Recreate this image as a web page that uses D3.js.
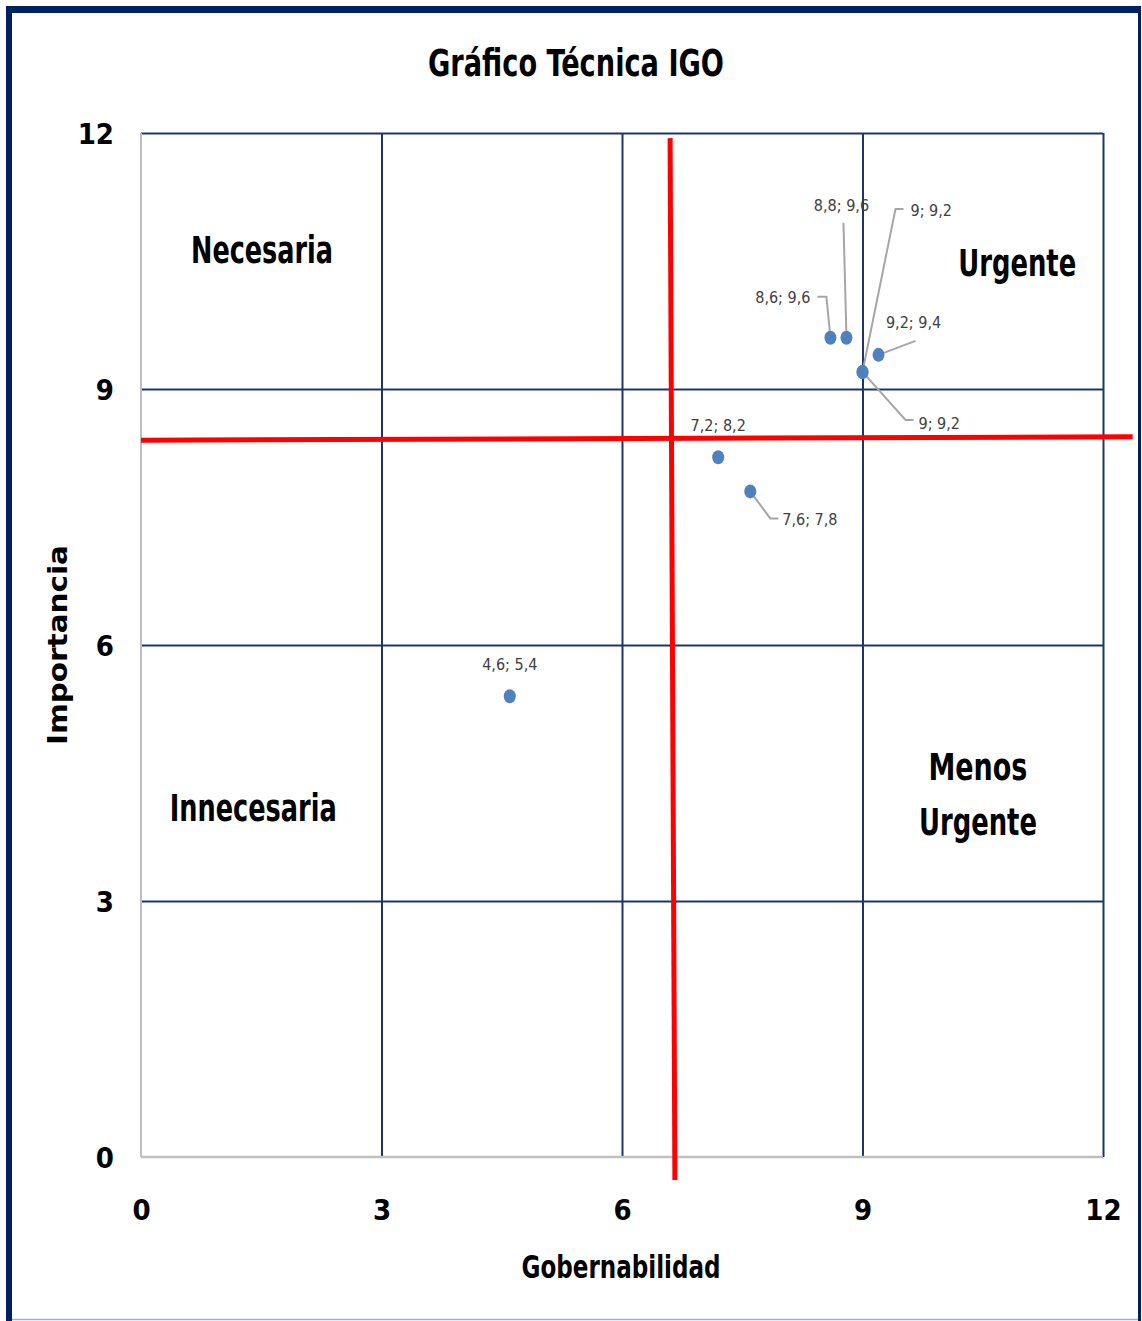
<!DOCTYPE html>
<html>
<head>
<meta charset="utf-8">
<script src="https://d3js.org/d3.v7.min.js"></script>
<style>
  body { margin: 0; background: #fff; }
  svg text { font-family: "Liberation Sans Narrow", "DejaVu Sans Condensed", "Open Sans", sans-serif; }
  .tick text { font-weight: bold; font-size: 29px; fill: #000; }
  .pt-label { font-size: 16px; fill: #404040; }
  .quad { font-weight: bold; font-size: 37px; fill: #000; }
</style>
</head>
<body>
<script>
// data
var gobernabilidad = [4.6, 7.2, 7.6, 8.6, 8.8, 9, 9, 9.2];
var importancia    = [5.4, 8.2, 7.8, 9.6, 9.6, 9.2, 9.2, 9.4];
var pointLabels    = ["4,6; 5,4", "7,2; 8,2", "7,6; 7,8", "8,6; 9,6", "8,8; 9,6", "9; 9,2", "9; 9,2", "9,2; 9,4"];
var tickValues     = [0, 3, 6, 9, 12];
var quadNames      = [["Necesaria"], ["Urgente"], ["Innecesaria"], ["Menos", "Urgente"]];
var quadCenters    = [[1.51, 10.63], [10.93, 10.48], [1.40, 4.09], [10.44, 4.57]];
// red dividers (drawn by hand in the original, slightly skewed)
var redH = [[0, 8.40], [12.37, 8.44]];
var redV = [[6.60, 11.94], [6.66, -0.27]];

// label placement: text offset from point (px), anchor, leader polyline offsets
var labelLayout = [
  { dx: 0,   dy: -32, anchor: "middle", leader: null },
  { dx: 0,   dy: -32, anchor: "middle", leader: null },
  { dx: 32,  dy: 28,  anchor: "start",  leader: [[0, 0], [20, 27], [28, 27]] },
  { dx: -20, dy: -40, anchor: "end",    leader: [[0, 0], [-4, -41], [-13, -41]] },
  { dx: -5,  dy: -132, anchor: "middle", leader: [[0, 0], [-3, -115]] },
  { dx: 48,  dy: -162, anchor: "start", leader: [[0, 0], [33, -163], [41, -163]] },
  { dx: 56,  dy: 51,  anchor: "start",  leader: [[0, 0], [43, 48], [51, 48]] },
  { dx: 35,  dy: -32, anchor: "middle", leader: [[0, 0], [37, -14]] }
];
var quadWidths = [[142], [118], [167], [99, 118]];

var W = 1142, H = 1321;
var margin = { left: 141, right: W - 1103, top: 133, bottom: H - 1157 };

var svg = d3.select("body").append("svg")
  .attr("width", W).attr("height", H);

// outer frame
svg.append("rect").attr("x", 0).attr("y", 0).attr("width", W).attr("height", H).attr("fill", "#fff");
svg.append("line").attr("x1", 9).attr("x2", 9).attr("y1", 6).attr("y2", 1321)
  .attr("stroke", "#002060").attr("stroke-width", 6);
svg.append("line").attr("x1", 6).attr("x2", 1141).attr("y1", 9.5).attr("y2", 9.5)
  .attr("stroke", "#002060").attr("stroke-width", 7);
svg.append("line").attr("x1", 1139.5).attr("x2", 1139.5).attr("y1", 6).attr("y2", 1321)
  .attr("stroke", "#002060").attr("stroke-width", 3);
svg.append("line").attr("x1", 12).attr("x2", 1138).attr("y1", 1319.5).attr("y2", 1319.5)
  .attr("stroke", "#9fb0d0").attr("stroke-width", 1.5);

var x = d3.scaleLinear().domain([0, 12]).range([margin.left, W - margin.right]);
var y = d3.scaleLinear().domain([0, 12]).range([H - margin.bottom, margin.top]);

// grid
var gridX = svg.append("g")
  .attr("transform", "translate(0," + y(0) + ")")
  .call(d3.axisBottom(x).tickValues(tickValues.slice(1)).tickSize(-(y(0) - y(12))).tickFormat(""));
var gridY = svg.append("g")
  .attr("transform", "translate(" + x(0) + ",0)")
  .call(d3.axisLeft(y).tickValues(tickValues.slice(1)).tickSize(-(x(12) - x(0))).tickFormat(""));
[gridX, gridY].forEach(function(g) {
  g.select(".domain").remove();
  g.selectAll(".tick line").attr("stroke", "#1f3468").attr("stroke-width", 2);
});

// axis lines (gray)
svg.append("line").attr("x1", x(0)).attr("x2", x(0)).attr("y1", y(12)).attr("y2", y(0))
  .attr("stroke", "#bfbfbf").attr("stroke-width", 2);
svg.append("line").attr("x1", x(0)).attr("x2", x(12)).attr("y1", y(0)).attr("y2", y(0))
  .attr("stroke", "#bfbfbf").attr("stroke-width", 2.5);

// tick labels
var xAxis = svg.append("g")
  .attr("transform", "translate(0," + y(0) + ")")
  .call(d3.axisBottom(x).tickValues(tickValues).tickSize(0).tickPadding(42));
xAxis.select(".domain").remove();
var yAxis = svg.append("g")
  .attr("transform", "translate(" + x(0) + ",0)")
  .call(d3.axisLeft(y).tickValues(tickValues).tickSize(0).tickPadding(27));
yAxis.select(".domain").remove();
yAxis.selectAll(".tick text").attr("dy", "0.35em");

// red dividers
var redLine = d3.line().x(function(d) { return x(d[0]); }).y(function(d) { return y(d[1]); });
[redH, redV].forEach(function(seg) {
  svg.append("path").attr("d", redLine(seg))
    .attr("fill", "none").attr("stroke", "#ff0000").attr("stroke-width", 5);
});

// quadrant labels
quadNames.forEach(function(lines, qi) {
  var cx = x(quadCenters[qi][0]), cy = y(quadCenters[qi][1]);
  lines.forEach(function(s, i) {
    svg.append("text").attr("class", "quad")
      .attr("x", cx).attr("y", cy + i * 55)
      .attr("dy", "0.35em")
      .attr("text-anchor", "middle")
      .attr("textLength", quadWidths[qi][i])
      .attr("lengthAdjust", "spacingAndGlyphs")
      .text(s);
  });
});

// leader lines
var pts = gobernabilidad.map(function(g, i) { return { gx: g, iy: importancia[i], label: pointLabels[i], lay: labelLayout[i] }; });
pts.forEach(function(p) {
  if (!p.lay.leader) return;
  var cx = x(p.gx), cy = y(p.iy);
  svg.append("polyline")
    .attr("points", p.lay.leader.map(function(o) { return (cx + o[0]) + "," + (cy + o[1]); }).join(" "))
    .attr("fill", "none").attr("stroke", "#a6a6a6").attr("stroke-width", 2);
});

// points
svg.selectAll("ellipse.pt").data(pts).enter().append("ellipse")
  .attr("class", "pt")
  .attr("cx", function(d) { return x(d.gx); })
  .attr("cy", function(d) { return y(d.iy); })
  .attr("rx", 6).attr("ry", 7)
  .attr("fill", "#4f81bd");

// point labels
svg.selectAll("text.pt-label").data(pts).enter().append("text")
  .attr("class", "pt-label")
  .attr("x", function(d) { return x(d.gx) + d.lay.dx; })
  .attr("y", function(d) { return y(d.iy) + d.lay.dy; })
  .attr("dy", "0.35em")
  .attr("text-anchor", function(d) { return d.lay.anchor; })
  .text(function(d) { return d.label; });

// title
svg.append("text")
  .attr("x", 576).attr("y", 76)
  .attr("text-anchor", "middle")
  .attr("textLength", 296).attr("lengthAdjust", "spacingAndGlyphs")
  .style("font-weight", "bold").style("font-size", "37px")
  .text("Gráfico Técnica IGO");

// axis titles
svg.append("text")
  .attr("x", 621).attr("y", 1278)
  .attr("text-anchor", "middle")
  .attr("textLength", 199).attr("lengthAdjust", "spacingAndGlyphs")
  .style("font-weight", "bold").style("font-size", "32px")
  .text("Gobernabilidad");
svg.append("text")
  .attr("transform", "translate(67,645) rotate(-90)")
  .attr("text-anchor", "middle")
  .attr("textLength", 200).attr("lengthAdjust", "spacingAndGlyphs")
  .style("font-family", "'DejaVu Sans', Verdana, sans-serif")
  .style("font-weight", "bold").style("font-size", "27px")
  .text("Importancia");
</script>
</body>
</html>
